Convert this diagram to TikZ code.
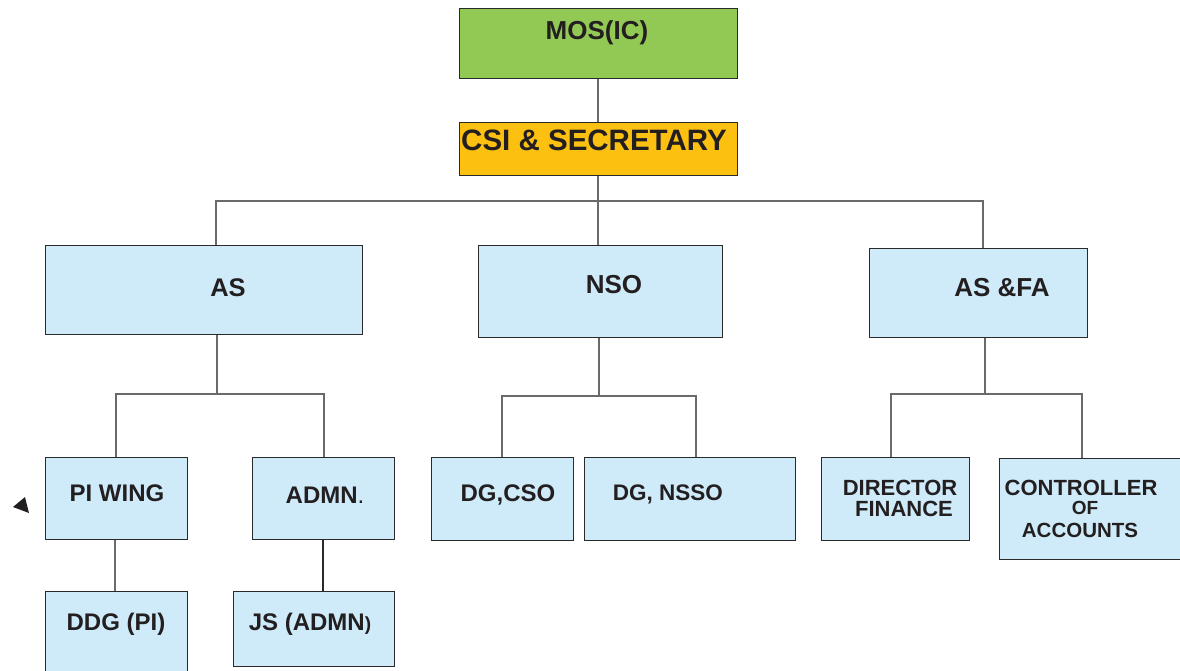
\documentclass[tikz,border=0pt]{standalone}
\usepackage{fontspec}
\setmainfont{Liberation Sans}
\definecolor{inkdark}{HTML}{231F20}
\definecolor{boxline}{HTML}{2A2A2A}
\definecolor{wire}{HTML}{6A6A6A}
\definecolor{paleblue}{HTML}{CFEBFA}
\definecolor{leafgreen}{HTML}{92C854}
\definecolor{amber}{HTML}{FBC010}
\newcommand{\fsz}[1]{\fontsize{#1}{#1}\selectfont\bfseries}
\tikzset{
  box/.style={draw=boxline, line width=1pt, fill=paleblue, inner sep=0pt, anchor=north west},
  lbl/.style={inner sep=0pt, text=inkdark, align=center},
  wireline/.style={draw=wire, line width=1.2pt},
}
\begin{document}
\begin{tikzpicture}[x=1pt, y=-1pt]
\useasboundingbox (0,0) rectangle (1180,670);
\clip (0,0) rectangle (1180,670);
\fill[white] (0,0) rectangle (1180,670);

% top of the hierarchy
\node[box, fill=leafgreen, minimum width=278pt, minimum height=70pt] (mos) at (459,8) {};
\node[box, fill=amber, minimum width=278pt, minimum height=53pt] (csi) at (459,122) {};

% second level
\node[box, minimum width=317pt, minimum height=89pt] (as) at (45,245) {};
\node[box, minimum width=244pt, minimum height=92pt] (nso) at (478,245) {};
\node[box, minimum width=218pt, minimum height=89pt] (asfa) at (869,248) {};

% third level
\node[box, minimum width=142pt, minimum height=82pt] (piw) at (45,457) {};
\node[box, minimum width=142pt, minimum height=82pt] (admn) at (252,457) {};
\node[box, minimum width=142pt, minimum height=83pt] (dgcso) at (431,457) {};
\node[box, minimum width=211pt, minimum height=83pt] (dgnsso) at (584,457) {};
\node[box, minimum width=148pt, minimum height=83pt] (dirfin) at (821,457) {};
\node[box, minimum width=195pt, minimum height=101pt] (ctrl) at (999,458) {};

% fourth level
\node[box, minimum width=142pt, minimum height=95pt] (ddg) at (45,591) {};
\node[box, minimum width=161pt, minimum height=75pt] (js) at (233,591) {};

% labels
\node[lbl, font=\fsz{26}] (tmos) at (597,33) {MOS(IC)};
\node[lbl, font=\fsz{29.5}] (tcsi) at (594,140) {CSI \& SECRETARY};
\node[lbl, font=\fsz{25.5}] (tas) at (228,288) {AS};
\node[lbl, font=\fsz{26}] (tnso) at (614,285) {NSO};
\node[lbl, font=\fsz{26}] (tasfa) at (1002,288) {AS \&FA};
\node[lbl, font=\fsz{24}] (tpiw) at (117,493) {PI WING};
\node[lbl, font=\fsz{24}] (tadmn) at (325,495) {ADMN{\mdseries.}};
\node[lbl, font=\fsz{24}] (tdgcso) at (508,495) {DG,CSO};
\node[lbl, font=\fsz{22.5}] (tdgnsso) at (668,494) {DG, NSSO};
\node[lbl, font=\fsz{22}] (tdir) at (900,488) {DIRECTOR};
\node[lbl, font=\fsz{22}] (tfin) at (904,509) {FINANCE};
\node[lbl, font=\fsz{22}] (tctrl1) at (1081,488) {CONTROLLER};
\node[lbl, font=\fsz{19}] (tctrl2) at (1085,508) {OF};
\node[lbl, font=\fsz{20.5}] (tctrl3) at (1080,530) {ACCOUNTS};
\node[lbl, font=\fsz{24}] (tddg) at (116,624) {DDG (PI)};
\node[lbl, font=\fsz{24}] (tjs) at (310,624) {JS (ADMN{\fsz{19})}};

% junction points of the branch lines
\coordinate (busL) at (216,201);
\coordinate (busR) at (983,201);
\coordinate (asJ) at (217,394);
\coordinate (asL) at (116,394);
\coordinate (asR) at (324,394);
\coordinate (nsoJ) at (599,396);
\coordinate (nsoL) at (502,396);
\coordinate (nsoR) at (696,396);
\coordinate (faJ) at (985,394);
\coordinate (faL) at (891,394);
\coordinate (faR) at (1082,394);
\coordinate (piwX) at (115,0);
\coordinate (admnX) at (323,0);

% connectors
\draw[wireline] (mos.south -| 598,0) -- (csi.north -| 598,0);
\draw[wireline] (csi.south -| 598,0) -- (nso.north -| 598,0);
\draw[wireline] (busL |- as.north) -- (busL) -- (busR) -- (busR |- asfa.north);

\draw[wireline] (asJ |- as.south) -- (asJ);
\draw[wireline] (asL |- piw.north) -- (asL) -- (asR) -- (asR |- admn.north);

\draw[wireline] (nsoJ |- nso.south) -- (nsoJ);
\draw[wireline] (nsoL |- dgcso.north) -- (nsoL) -- (nsoR) -- (nsoR |- dgnsso.north);

\draw[wireline] (faJ |- asfa.south) -- (faJ);
\draw[wireline] (faL |- dirfin.north) -- (faL) -- (faR) -- (faR |- ctrl.north);

\draw[wireline] (piwX |- piw.south) -- (piwX |- ddg.north);
\draw[wireline, draw=boxline] (admnX |- admn.south) -- (admnX |- js.north);

% small pointer mark at the left margin
\fill[inkdark] (13,507) -- (25,497) -- (29,513) -- cycle;
\end{tikzpicture}
\end{document}
